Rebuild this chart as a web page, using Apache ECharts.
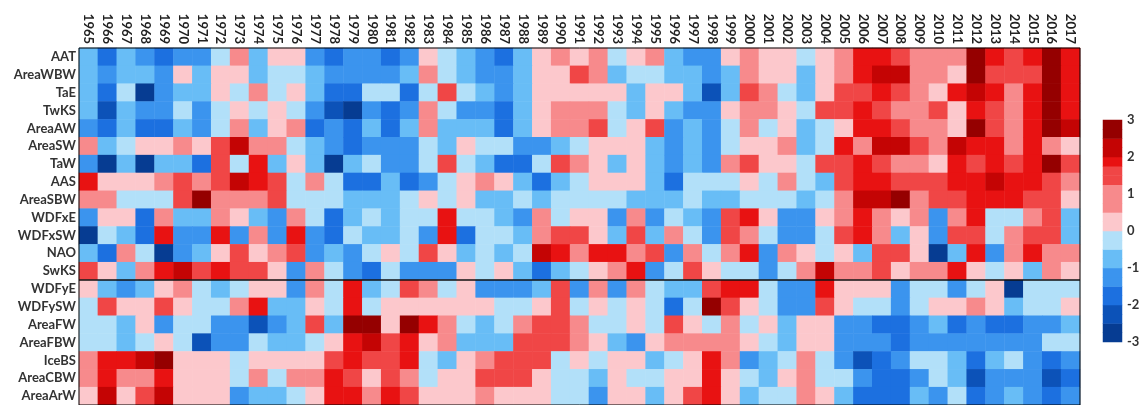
<!DOCTYPE html>
<html><head><meta charset="utf-8">
<script src="https://cdn.jsdelivr.net/npm/echarts@6/dist/echarts.min.js"></script>
<style>html,body{margin:0;padding:0;background:#fff}#c{width:1143px;height:405px}</style>
</head><body><div id="c"></div><script>
const years = ['1965','1966','1967','1968','1969','1970','1971','1972','1973','1974','1975','1976','1977','1978','1979','1980','1981','1982','1983','1984','1985','1986','1987','1988','1989','1990','1991','1992','1993','1994','1995','1996','1997','1998','1999','2000','2001','2002','2003','2004','2005','2006','2007','2008','2009','2010','2011','2012','2013','2014','2015','2016','2017'];
const variables = ['AAT','AreaWBW','TaE','TwKS','AreaAW','AreaSW','TaW','AAS','AreaSBW','WDFxE','WDFxSW','NAO','SwKS','WDFyE','WDFySW','AreaFW','AreaFBW','IceBS','AreaCBW','AreaArW'];
const separatorAfter = 'SwKS';

const AAT = [-0.8,-1.8,-0.8,-1.3,-2.0,-1.3,-1.3,-0.4,0.9,-0.8,0.4,0.4,-1.3,-1.8, -1.3,-1.3,-1.8,-1.3,0.4,-0.4,-0.8,-1.3,-1.8,-0.8,0.4,0.9,0.4, 0.9,-0.4,0.4,0.9,-0.8,-1.3,-1.3,0.4,0.9,0.4,0.4,-0.4,0.4, 0.9,2.0,2.0,1.5,0.9,0.9,0.9,2.5,2.0,1.5,2.0,2.5,2.0];
const AreaWBW = [-0.8,-1.3,-0.8,-0.8,-1.3,0.4,-0.8,0.3,0.3,-0.8,-0.4,-0.4,-0.8,-1.3, -1.3,-1.3,-1.3,-0.8,0.9,-0.4,-0.8,-1.3,-1.3,-0.8,0.3,0.4,1.5, 0.9,-0.8,-0.4,-0.4,-0.8,-0.8,-1.3,-0.8,0.9,0.4,0.4,-0.8,0.4, 0.9,2.0,2.3,2.3,0.9,0.9,0.4,2.5,1.5,1.5,1.5,2.5,2.0];
const TaE = [-0.8,-1.8,-0.4,-2.6,-1.3,-0.8,-0.8,0.3,-0.3,0.9,-0.3,0.4,-0.8,-1.8, -1.9,-0.4,-0.4,-1.8,-0.4,1.5,-0.4,-0.8,-1.3,-0.8,0.3,0.4,0.4, 0.4,0.4,-0.8,0.4,0.4,-0.8,-2.3,-0.8,1.5,0.9,-0.4,-0.8,0.4, 1.5,1.5,2.0,1.5,0.9,0.4,2.0,2.3,2.0,0.9,2.0,2.5,2.0];
const TwKS = [-0.8,-2.3,-0.8,-1.3,-1.3,-0.4,-1.3,-0.3,0.4,-0.4,0.3,-0.3,-1.3,-2.3, -2.5,-1.3,-1.8,-1.3,0.9,-0.4,-1.3,-1.3,-1.8,-0.8,0.3,0.9,0.9, 0.9,-0.4,-0.8,0.4,-0.8,-1.3,-1.3,0.4,0.9,0.9,0.4,-0.4,1.5, 1.5,2.0,1.5,0.9,0.9,1.5,0.4,2.0,1.5,0.9,2.0,2.5,2.0];
const AreaAW = [-1.3,-1.9,-0.8,-1.8,-1.8,-0.8,-1.3,-0.4,0.9,-0.8,0.3,0.9,-1.8,-1.5, -1.8,-0.8,-1.8,-0.8,0.9,-0.8,-0.8,-0.8,-1.8,-0.8,0.3,0.9,0.9, 1.5,-0.4,0.4,1.5,-1.3,-0.8,-1.3,-0.4,0.9,-0.4,0.4,-0.8,-0.4, 0.2,2.0,2.0,1.5,0.9,0.9,0.4,2.5,1.5,0.9,2.0,2.5,2.3];
const AreaSW = [0.9,-0.8,-0.4,0.4,0.4,0.9,0.4,1.5,2.3,0.9,0.9,-0.4,-0.8,-1.3, -2.0,-1.3,-1.3,-1.3,-0.4,-0.8,0.4,-0.4,-0.4,-1.3,-1.3,-0.8,-0.4, 0.4,0.4,0.4,-0.8,-1.3,-0.8,-1.3,-0.4,0.4,0.4,0.9,-0.8,-0.4, 2.0,0.9,2.3,2.3,1.5,0.9,2.3,2.0,2.0,0.9,2.0,0.9,0.3];
const TaW = [-1.4,-2.5,-0.8,-2.5,-0.8,-0.8,-1.8,1.5,-0.4,2.0,-0.8,0.3,-0.8,-2.5, -0.8,-0.4,-1.3,-1.3,-0.4,1.6,-0.4,-0.8,-1.8,-1.8,-0.4,1.5,0.9, 0.4,-0.8,0.4,-0.8,-1.3,-0.8,-1.3,0.9,1.5,0.4,0.4,-0.4,1.5, 1.5,2.0,1.5,0.9,0.9,0.4,2.0,1.5,2.0,1.5,2.0,2.6,1.5];
const AAS = [2.0,0.4,0.4,0.4,0.9,1.5,0.9,1.5,2.3,2.0,1.5,-0.3,0.9,-0.3, -1.8,-1.8,-0.8,-1.7,-1.3,-0.4,0.4,0.9,0.4,-0.8,-1.8,-0.8,-0.4, 0.4,0.4,0.4,-0.8,-1.8,-0.4,-0.4,-0.4,0.4,-0.4,0.9,-0.4,-0.8, 1.5,2.0,2.0,1.5,1.5,1.5,2.0,2.0,2.3,2.0,2.0,1.5,0.9];
const AreaSBW = [0.9,0.9,-0.4,-0.4,-0.4,1.5,2.7,0.9,0.9,0.9,1.5,-0.4,-0.4,-0.4, -0.8,-0.8,-0.8,-0.4,0.4,-0.4,0.4,-0.8,-0.8,-0.4,-0.8,-0.4,-0.4, -0.4,-0.4,-0.8,-0.8,-0.8,-0.4,-0.8,-0.8,-0.4,-0.4,-0.4,-0.8,-0.4, 0.9,2.3,2.3,2.7,0.9,1.5,1.5,2.0,2.0,2.0,1.5,1.5,0.4];
const WDFxE = [-1.3,0.4,0.4,-1.8,0.9,-0.8,-0.8,0.9,0.4,-0.8,-1.3,0.9,-0.4,-1.8, -0.8,-0.4,-0.8,-0.4,-0.4,2.0,-0.4,-0.4,-0.8,-1.3,0.9,-0.4,0.4, 0.4,-1.5,0.9,-1.3,-0.4,-0.8,-1.5,1.5,2.0,0.4,-1.3,-1.3,0.4, 0.9,2.0,0.9,0.4,0.9,-1.4,0.9,2.0,-0.4,-0.4,0.9,1.5,-0.8];
const WDFxSW = [-2.5,-0.4,-0.8,-1.8,2.0,-1.3,-1.3,2.0,-1.3,0.9,-1.3,2.0,-1.3,-1.8, -0.4,-0.8,-0.8,-0.4,-1.3,2.0,-1.8,-0.4,-0.4,-0.8,0.9,1.5,1.5, 0.4,-0.8,1.5,-0.8,0.9,-0.4,-1.3,1.5,0.9,-0.4,-1.3,-1.3,-0.4, 1.5,2.0,0.9,-0.8,0.4,-1.3,1.5,1.5,-0.4,0.9,1.5,1.5,-0.8];
const NAO = [-0.8,-1.8,0.9,-0.4,-2.5,-1.3,-0.8,0.4,1.5,0.4,0.9,1.5,-1.3,-0.8, -1.3,-0.4,0.4,-0.4,1.5,0.4,-0.8,-0.4,-0.8,-0.4,2.3,2.0,0.9, 2.0,2.0,0.9,1.5,-1.3,0.9,-0.4,0.9,2.0,-1.3,0.9,0.4,-0.4, 0.4,-0.8,1.5,1.5,0.4,-2.5,-0.8,2.0,-1.4,0.9,2.0,0.9,0.9];
const SwKS = [1.5,0.4,-0.8,0.9,2.0,2.4,1.5,2.0,1.5,1.5,0.4,-1.3,0.9,-0.4, -1.3,-1.8,-0.4,-1.3,-1.3,-1.3,0.4,-0.4,0.4,-0.8,-2.0,-0.8,-0.4, 0.4,0.9,2.0,-1.3,-0.4,1.5,0.4,-0.4,-0.4,-1.3,-0.4,0.9,2.3, 0.9,0.9,1.5,0.4,0.9,0.9,2.0,0.4,-0.4,0.4,-0.8,0.9,0.4];
const WDFyE = [0.4,-0.8,-1.3,-0.8,0.4,0.9,-0.4,-0.8,-0.4,0.3,0.3,-1.3,0.9,-0.4, 2.0,-0.8,-0.4,1.5,0.9,-0.4,0.4,-1.3,-1.3,-1.3,-0.8,1.5,-1.3, 0.9,-1.3,0.9,-0.4,-0.8,-0.8,1.5,2.0,2.0,-0.4,-1.3,-1.3,2.0, 0.4,0.4,0.4,-1.3,-0.4,-0.4,-1.4,-0.4,0.4,-2.5,-0.4,-0.4,-0.4];
const WDFySW = [-0.4,1.5,0.4,0.4,1.5,0.4,-0.4,-0.4,0.9,2.0,-0.8,-0.8,0.4,-0.4, 2.0,-0.4,0.4,0.4,0.4,0.4,0.4,0.4,-0.4,-0.4,0.4,1.5,-0.4, 0.4,-0.4,0.4,-0.4,-2.0,-0.4,2.7,1.5,0.4,-0.4,-1.5,-1.5,1.5, 0.4,-0.4,-0.4,-1.3,-0.4,0.4,0.3,0.9,0.4,-0.8,-0.4,-0.4,0.4];
const AreaFW = [-0.4,-0.4,-0.8,0.4,-1.3,-0.4,-0.4,-1.3,-1.5,-2.3,-1.4,-0.8,1.5,-0.8, 2.5,2.5,0.4,2.6,2.0,0.9,-0.4,-0.8,-0.4,0.9,1.5,1.5,0.9, -0.4,-0.4,0.4,-0.4,1.5,0.4,-0.4,0.9,-0.4,0.4,-0.8,0.4,0.4, -1.3,-1.3,-1.8,-2.0,-1.3,-0.8,-1.8,-1.3,-1.8,-1.8,-1.3,-1.3,-0.8];
const AreaFBW = [-0.4,-0.4,-0.8,-0.4,0.4,-0.4,-2.3,-1.3,-1.5,-0.4,-0.8,-0.8,-0.4,0.4, 2.0,2.3,1.5,2.0,0.4,0.9,-0.8,-0.8,-0.8,1.5,1.5,1.5,0.9, 0.4,-0.8,-1.3,0.4,0.9,0.9,0.9,0.9,0.4,-0.4,-0.8,0.4,0.4, -1.3,-1.3,-1.3,-1.8,-1.3,-1.3,-1.3,-1.3,-1.3,-1.3,-1.3,-0.4,-0.4];
const IceBS = [0.9,2.0,2.0,2.3,2.6,0.4,0.4,0.4,-0.4,0.4,0.4,0.4,0.4,1.5, 2.0,1.5,1.5,2.0,-0.4,-0.8,0.4,0.9,1.5,1.5,1.5,-0.4,0.4, -0.4,0.4,0.4,-0.8,-0.4,0.4,2.0,0.9,-1.3,-0.8,-0.4,0.9,-0.4, -1.3,-2.3,-1.8,-1.3,-0.4,-0.4,-0.8,-2.0,-0.8,-0.4,-1.3,-2.0,-1.5];
const AreaCBW = [0.9,2.0,0.9,0.9,2.0,0.4,0.4,0.4,-0.4,0.9,-0.4,0.9,0.9,2.0, 1.5,0.4,1.5,0.9,-0.4,0.4,0.4,1.5,1.5,1.5,0.4,-0.4,-0.4, -0.8,0.4,-0.4,-0.4,0.4,0.4,2.0,0.4,-0.4,-0.8,0.4,0.9,-0.4, -0.4,-1.3,-1.8,-1.8,-1.3,-0.4,-0.8,-2.4,-1.3,-1.3,-1.3,-2.3,-1.8];
const AreaArW = [0.4,2.3,0.4,1.5,2.3,0.4,0.4,0.4,-1.3,-0.8,-0.8,-0.4,0.4,2.0, 2.0,0.9,2.0,1.5,0.4,0.4,0.4,0.9,0.4,0.4,0.4,-0.4,-0.4, -1.3,0.4,0.4,-0.8,0.4,1.5,2.0,0.4,-0.8,-0.4,-0.4,0.9,0.4, -0.8,-1.8,-1.8,-1.8,-0.8,-1.3,-0.4,-1.8,-1.3,-0.8,-1.3,-1.8,-1.5];

const rows = [AAT,AreaWBW,TaE,TwKS,AreaAW,AreaSW,TaW,AAS,AreaSBW,WDFxE,WDFxSW,NAO,SwKS,WDFyE,WDFySW,AreaFW,AreaFBW,IceBS,AreaCBW,AreaArW];

// colour-bar levels (legend), bottom to top
const colorbarLevels = [-2.875,-2.625,-2.375,-2.125,-1.875,-1.625,-1.375,-1.125,-0.875,-0.625,-0.375,-0.125,0.125,0.375,0.625,0.875,1.125,1.375,1.625,1.875,2.125,2.375,2.625,2.875];
const colorbarTicks = [-3, 3, 1];

const pieces = [
  {gte: 2.45, color: '#950000'},
  {gte: 2.1, lt: 2.45, color: '#c40404'},
  {gte: 1.8, lt: 2.1, color: '#e81212'},
  {gte: 1.2, lt: 1.8, color: '#f04646'},
  {gte: 0.6, lt: 1.2, color: '#f78a8c'},
  {gte: 0, lt: 0.6, color: '#fcc8cc'},
  {gte: -0.6, lt: 0, color: '#b2e0f9'},
  {gte: -1.1, lt: -0.6, color: '#68bdf6'},
  {gte: -1.6, lt: -1.1, color: '#3b94ee'},
  {gte: -2.1, lt: -1.6, color: '#1c70e0'},
  {gte: -2.45, lt: -2.1, color: '#0c52b8'},
  {lt: -2.45, color: '#063c92'}
];

const heatData = [];
rows.forEach((r, ri) => r.forEach((v, ci) => heatData.push([ci, ri, v])));
const cbData = colorbarLevels.map((v, i) => [0, i, v]);

const FONT = 'Lato';
const chart = echarts.init(document.getElementById('c'), null, {renderer: 'canvas'});
chart.setOption({
  animation: false,
  backgroundColor: '#fff',
  grid: [
    {left: 79, top: 48, width: 1001, height: 362},
    {left: 1103, top: 120, width: 19, height: 222}
  ],
  xAxis: [
    {gridIndex: 0, type: 'category', data: years, position: 'top',
     axisLine: {show: false}, axisTick: {show: false}, splitLine: {show: false},
     axisLabel: {rotate: 90, interval: 0, fontSize: 13, fontWeight: 'bold', color: '#222', fontFamily: FONT, margin: 4}},
    {gridIndex: 1, type: 'category', data: [''], show: false}
  ],
  yAxis: [
    {gridIndex: 0, type: 'category', data: variables, inverse: true,
     axisLine: {show: false}, axisTick: {show: false}, splitLine: {show: false},
     axisLabel: {interval: 0, fontSize: 13, fontWeight: 'bold', color: '#333', fontFamily: FONT, margin: 3}},
    {gridIndex: 1, type: 'category', data: colorbarLevels.map(String), show: false},
    {gridIndex: 1, type: 'value', min: colorbarTicks[0], max: colorbarTicks[1], interval: colorbarTicks[2], position: 'right',
     axisLine: {show: false}, axisTick: {show: false}, splitLine: {show: false},
     axisLabel: {fontSize: 13, fontWeight: 'bold', color: '#333', fontFamily: FONT, margin: 5}}
  ],
  visualMap: {type: 'piecewise', show: false, dimension: 2, seriesIndex: [0, 1], pieces: pieces},
  series: [
    {type: 'heatmap', xAxisIndex: 0, yAxisIndex: 0, data: heatData, itemStyle: {borderWidth: 0}, emphasis: {disabled: true}},
    {type: 'heatmap', xAxisIndex: 1, yAxisIndex: 1, data: cbData, itemStyle: {borderWidth: 0}, emphasis: {disabled: true}}
  ]
});

// frame and separator line, placed through the axes' own scales
const rect = chart.getModel().getComponent('grid', 0).coordinateSystem.getRect();
const iSep = variables.indexOf(separatorAfter);
const ySep = (chart.convertToPixel({yAxisIndex: 0}, variables[iSep]) + chart.convertToPixel({yAxisIndex: 0}, variables[iSep + 1])) / 2;
chart.setOption({
  graphic: [
    {type: 'rect', z: 100, silent: true, shape: {x: rect.x, y: rect.y, width: rect.width, height: rect.height},
     style: {fill: null, stroke: '#000', lineWidth: 1}},
    {type: 'line', z: 100, silent: true, shape: {x1: rect.x, y1: ySep, x2: rect.x + rect.width, y2: ySep},
     style: {stroke: '#111', lineWidth: 1.5}}
  ]
});
</script></body></html>
